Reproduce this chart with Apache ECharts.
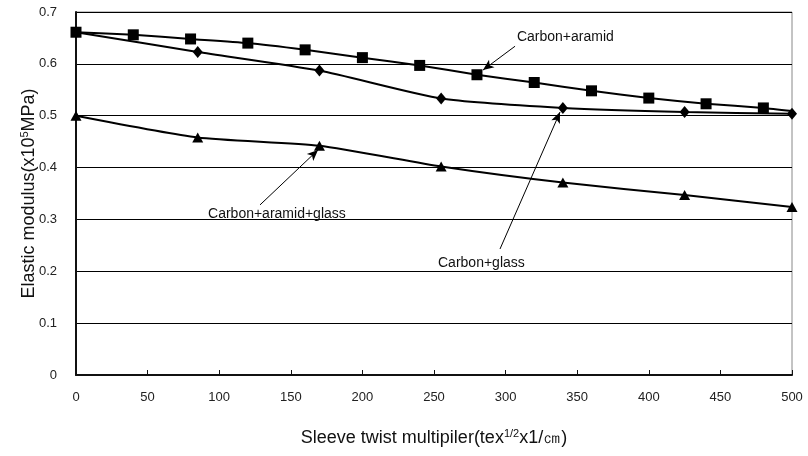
<!DOCTYPE html>
<html>
<head>
<meta charset="utf-8">
<script src="https://cdn.jsdelivr.net/npm/echarts@6/dist/echarts.min.js"></script>
<style>
  html, body { margin: 0; padding: 0; background: #fff; }
  #chart { width: 808px; height: 456px; }
</style>
</head>
<body>
<div id="chart"></div>
<script>
// Sleeve twist multiplier (tex^1/2 x 1/cm) vs. elastic modulus (x10^5 MPa)
const xTicks = [0, 50, 100, 150, 200, 250, 300, 350, 400, 450, 500];
const yTicks = [0, 0.1, 0.2, 0.3, 0.4, 0.5, 0.6, 0.7];

const aramidX = [0, 40, 80, 120, 160, 200, 240, 280, 320, 360, 400, 440, 480, 500];
const aramidY = [0.661, 0.656, 0.648, 0.640, 0.627, 0.612, 0.597, 0.579, 0.564, 0.548, 0.534, 0.523, 0.515, 0.509];
// last point closes the curve at the axis end without a marker
const aramidMarked = [true, true, true, true, true, true, true, true, true, true, true, true, true, false];

const glassX = [0, 85, 170, 255, 340, 425, 500];
const glassY = [0.661, 0.623, 0.587, 0.533, 0.515, 0.507, 0.504];

const hybridX = [0, 85, 170, 255, 340, 425, 500];
const hybridY = [0.500, 0.458, 0.442, 0.402, 0.371, 0.347, 0.324];

// callouts: label text, label anchor (data space), arrow tail and head (data space)
const calloutText = ['Carbon+aramid', 'Carbon+glass', 'Carbon+aramid+glass'];
const calloutAt = [[307.9, 0.652], [252.8, 0.216], [92.2, 0.310]];
const arrowFrom = [[306.6, 0.634], [296.1, 0.243], [128.5, 0.328]];
const arrowTo = [[284.2, 0.588], [338.0, 0.507], [169.0, 0.434]];

const zip = (xs, ys) => xs.map((x, i) => [x, ys[i]]);

const chart = echarts.init(document.getElementById('chart'), null, { renderer: 'canvas' });
const font = 'Liberation Sans, Arial, sans-serif';

const baseSeries = {
  type: 'line',
  smooth: 0.2,
  clip: false,
  lineStyle: { color: '#000', width: 2 },
  itemStyle: { color: '#000' },
  emphasis: { disabled: true },
  z: 5
};

const arrowLines = arrowFrom.map((from, i) => [
  { coord: from, symbol: 'none' },
  { coord: arrowTo[i], symbol: 'arrow', symbolSize: [7, 11] }
]);

const nameStyle = {
  fontFamily: font, fontSize: 18, color: '#111',
  rich: { sup: { fontFamily: font, fontSize: 11, color: '#111', verticalAlign: 'top', padding: [0, 0, 10, 0] } }
};

chart.setOption({
  animation: false,
  backgroundColor: '#fff',
  grid: { left: 76, right: 16, top: 12, bottom: 81, show: true, borderColor: '#888', borderWidth: 1 },
  xAxis: {
    type: 'value',
    min: xTicks[0],
    max: xTicks[xTicks.length - 1],
    interval: 50,
    name: 'Sleeve twist multipiler(tex{sup|1/2}x1/㎝)',
    nameLocation: 'middle',
    nameGap: 53,
    nameMoveOverlap: false,
    nameTextStyle: nameStyle,
    axisLine: { lineStyle: { color: '#111', width: 2 } },
    axisTick: { inside: true, length: 5, lineStyle: { color: '#111' } },
    axisLabel: { fontFamily: font, fontSize: 13, color: '#222', margin: 16 },
    splitLine: { show: false }
  },
  yAxis: {
    type: 'value',
    min: yTicks[0],
    max: yTicks[yTicks.length - 1],
    interval: 0.1,
    name: 'Elastic modulus(x10{sup|5}MPa)',
    nameLocation: 'middle',
    nameGap: 36,
    nameMoveOverlap: false,
    nameTextStyle: nameStyle,
    axisLine: { show: true, lineStyle: { color: '#111', width: 2 } },
    axisTick: { show: false },
    axisLabel: {
      fontFamily: font, fontSize: 13, color: '#222', margin: 19,
      formatter: v => (v === 0 ? '0' : v.toFixed(1))
    },
    splitLine: { lineStyle: { color: '#000', width: 1 } }
  },
  series: [
    Object.assign({}, baseSeries, {
      name: 'Carbon+aramid',
      symbol: 'rect',
      symbolSize: 11,
      data: zip(aramidX, aramidY).map((p, i) => aramidMarked[i] ? p : { value: p, symbol: 'none' })
    }),
    Object.assign({}, baseSeries, {
      name: 'Carbon+glass',
      symbol: 'diamond',
      symbolSize: [10, 12],
      data: zip(glassX, glassY),
      markLine: {
        silent: true,
        animation: false,
        lineStyle: { color: '#000', width: 1, type: 'solid' },
        label: { show: false },
        data: arrowLines
      }
    }),
    Object.assign({}, baseSeries, {
      name: 'Carbon+aramid+glass',
      symbol: 'triangle',
      symbolSize: [11, 10],
      data: zip(hybridX, hybridY)
    })
  ]
});

// callout labels placed from data coordinates
chart.setOption({
  graphic: calloutText.map((t, i) => {
    const p = chart.convertToPixel({ gridIndex: 0 }, calloutAt[i]);
    return {
      type: 'text',
      x: p[0],
      y: p[1],
      z: 10,
      style: {
        text: t,
        fill: '#111',
        font: '14px ' + font,
        textAlign: 'left',
        textVerticalAlign: 'middle'
      }
    };
  })
});
</script>
</body>
</html>
